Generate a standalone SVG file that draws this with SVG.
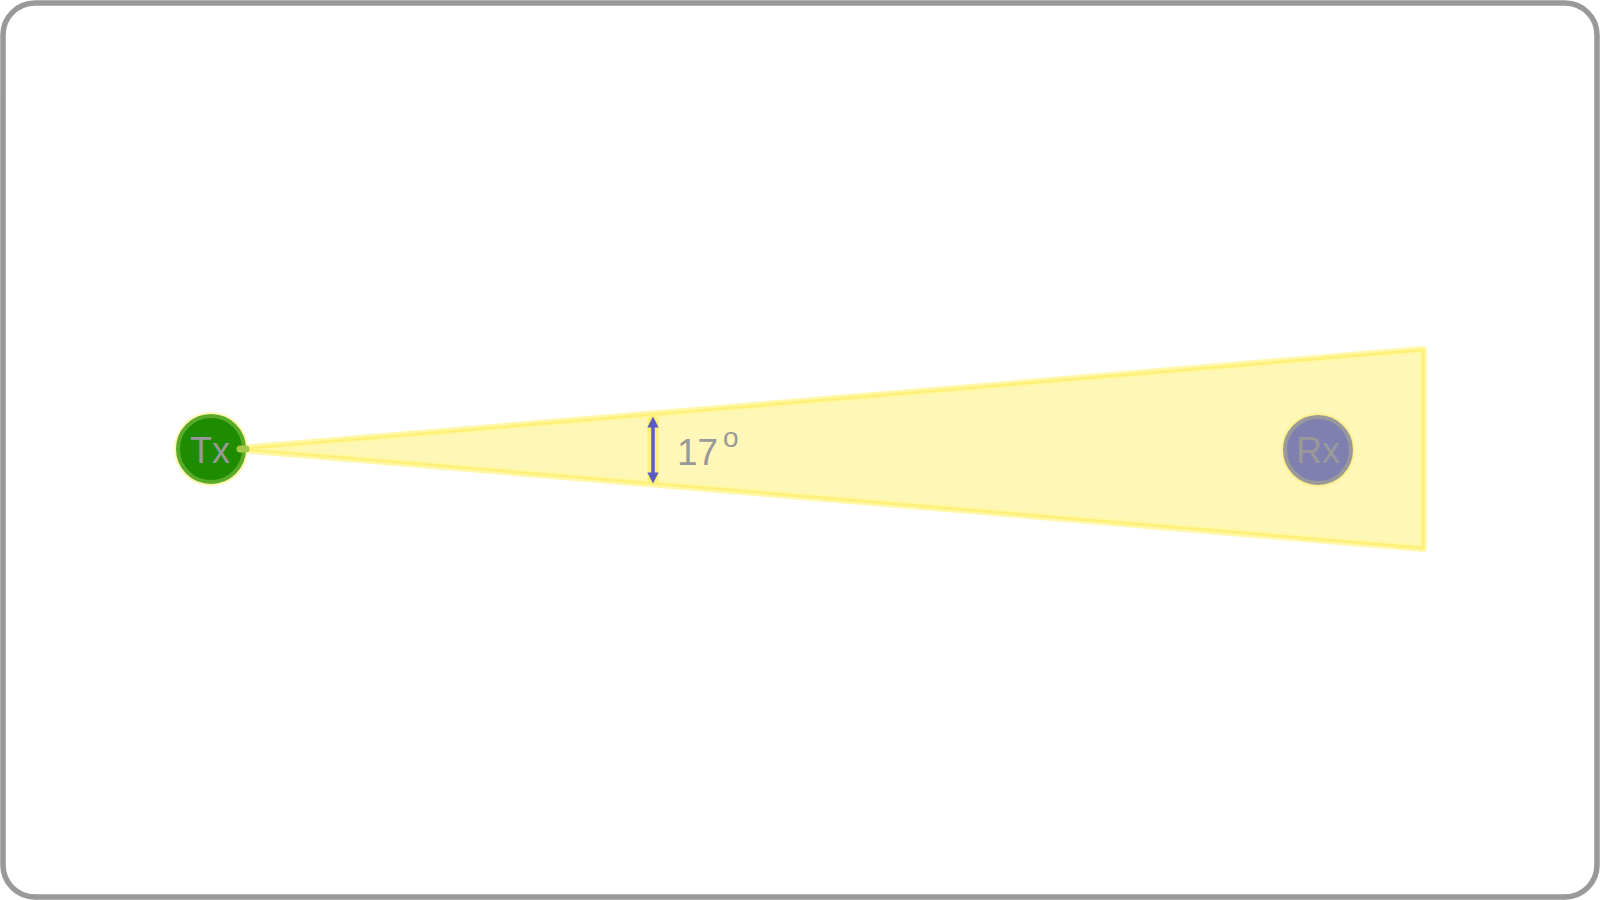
<svg xmlns="http://www.w3.org/2000/svg" width="1600" height="900" viewBox="0 0 1600 900">
<style>
.lbl{font-family:"Liberation Sans",Arial,sans-serif;fill:#999999;}
</style>
<defs>
<marker id="ah" viewBox="0 0 10 10" refX="5" refY="5" markerWidth="3.2" markerHeight="3.2" orient="auto-start-reverse">
<path d="M0,0 L10,5 L0,10 z" fill="#5b5bc4"/>
</marker>
</defs>
<rect x="3" y="3" width="1594" height="894" rx="32" ry="32" fill="#ffffff" stroke="#999999" stroke-width="5.5"/>
<g id="beam">
<polygon points="240,449 1423,350 1423,548" fill="#fff7b0" stroke="#fff7a0" stroke-width="8" stroke-linejoin="round" opacity="0.9"/>
<polygon points="240,449 1423,350 1423,548" fill="none" stroke="#fff07a" stroke-width="3" stroke-linejoin="round"/>
</g>
<g id="connectors">
<line x1="653" y1="421" x2="653" y2="479" stroke="#fff07a" stroke-width="11" stroke-linecap="round"/>
<line x1="653" y1="422" x2="653" y2="478" stroke="#5b5bc4" stroke-width="3.5" marker-start="url(#ah)" marker-end="url(#ah)"/>
</g>
<g id="angle-label">
<text class="lbl" x="677" y="465" font-size="37">17</text>
<text class="lbl" x="723" y="447" font-size="28">o</text>
</g>
<g id="tx">
<circle cx="211" cy="449" r="37" fill="#fff7b0"/>
<circle cx="211" cy="449" r="33" fill="#1e8c00" stroke="#58aa28" stroke-width="4"/>
<line x1="240" y1="449" x2="246" y2="449" stroke="#a8c848" stroke-width="7" stroke-linecap="round"/>
<text class="lbl" x="210" y="463" font-size="36" text-anchor="middle">Tx</text>
</g>
<g id="rx">
<circle cx="1318" cy="450" r="37" fill="#fff090"/>
<circle cx="1318" cy="450" r="33" fill="#8080b0" stroke="#999999" stroke-width="4"/>
<text class="lbl" x="1318" y="463" font-size="36" text-anchor="middle">Rx</text>
</g>
</svg>
